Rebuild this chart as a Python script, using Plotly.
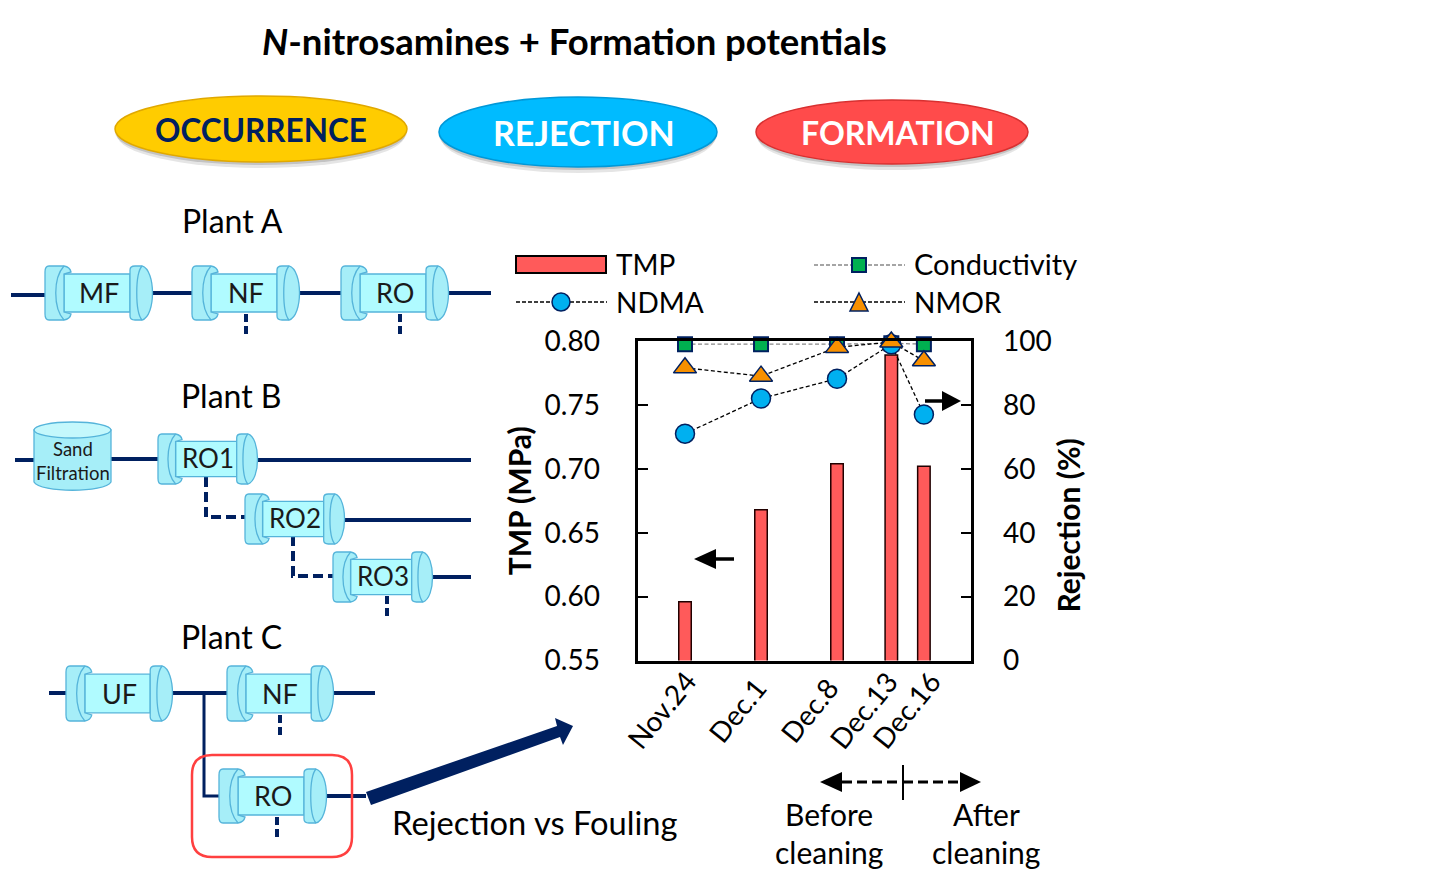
import plotly.graph_objects as go

W, H = 1440, 891
FONT = "Lato"
NAVY = "#002060"

# ---- chart data ----
dates = ["2014-11-24", "2014-12-01", "2014-12-08", "2014-12-13", "2014-12-16"]
date_labels = ["Nov.24", "Dec.1", "Dec.8", "Dec.13", "Dec.16"]
tmp = [0.596, 0.668, 0.704, 0.789, 0.702]
conductivity = [99, 99, 99, 99.3, 99]
ndma = [71, 82, 88.2, 99, 77]
nmor = [91.6, 89, 98, 99.7, 93.8]
left_ticks = [0.55, 0.60, 0.65, 0.70, 0.75, 0.80]
left_tick_labels = ["0.55", "0.60", "0.65", "0.70", "0.75", "0.80"]
right_ticks = [0, 20, 40, 60, 80, 100]
label_xshift = [-24, -24, -28, -28, -18]


def px(x):
    return x / W


def py(y):
    return 1 - y / H


shapes = []
annotations = []


def path(cmds):
    """cmds: list of (letter, x, y, ...) in page pixels."""
    out = []
    for c in cmds:
        nums = c[1:]
        pts = []
        for i in range(0, len(nums), 2):
            pts.append(f"{px(nums[i]):.5f},{py(nums[i + 1]):.5f}")
        out.append(c[0] + " ".join(pts))
    return " ".join(out)


def add_path(cmds, fill=None, line=None, lw=1.0, dash=None):
    s = dict(type="path", xref="paper", yref="paper", path=path(cmds),
             line=dict(color=line or "rgba(0,0,0,0)", width=lw if line else 0))
    if dash:
        s["line"]["dash"] = dash
    if fill:
        s["fillcolor"] = fill
    shapes.append(s)


def seg(x0, y0, x1, y1, color=NAVY, lw=4, dash=None):
    s = dict(type="line", xref="paper", yref="paper", x0=px(x0), y0=py(y0), x1=px(x1), y1=py(y1),
             line=dict(color=color, width=lw))
    if dash:
        s["line"]["dash"] = dash
    shapes.append(s)


def ell(cx, cy, rx, ry, fill=None, line=None, lw=1.0):
    shapes.append(dict(type="circle", xref="paper", yref="paper",
                       x0=px(cx - rx), x1=px(cx + rx), y0=py(cy + ry), y1=py(cy - ry),
                       fillcolor=fill or "rgba(0,0,0,0)",
                       line=dict(color=line or "rgba(0,0,0,0)", width=lw if line else 0)))


def rect(x0, y0, x1, y1, fill=None, line=None, lw=1.0):
    shapes.append(dict(type="rect", xref="paper", yref="paper",
                       x0=px(x0), x1=px(x1), y0=py(y1), y1=py(y0),
                       fillcolor=fill or "rgba(0,0,0,0)",
                       line=dict(color=line or "rgba(0,0,0,0)", width=lw if line else 0)))


def text(x, y, s, size=30, color="black", anchor="center", angle=0):
    annotations.append(dict(xref="paper", yref="paper", x=px(x), y=py(y - 1.5), text=s, showarrow=False,
                            xanchor=anchor, yanchor="middle", textangle=angle,
                            font=dict(family=FONT, size=size, color=color)))


BODY = "#B0FBFF"
CAP = "#A6EEF8"
EDGE = "#55B4DA"


def module(x0, y0, w, h, label, size=27):
    sx, sy = w / 108, h / 54
    X = lambda v: x0 + v * sx
    Y = lambda v: y0 + v * sy
    # body
    rect(X(19), Y(8), X(85), Y(46), fill=BODY, line=EDGE, lw=1.3)
    # left cap
    add_path([("M", X(4), Y(0)), ("L", X(19), Y(0)), ("Q", X(25), Y(1), X(26), Y(6)),
              ("L", X(19), Y(8)), ("L", X(19), Y(46)), ("L", X(26), Y(48)),
              ("Q", X(25), Y(53), X(19), Y(54)), ("L", X(4), Y(54)),
              ("Q", X(0), Y(54), X(0), Y(48)), ("L", X(0), Y(6)), ("Q", X(0), Y(0), X(4), Y(0)), ("Z",)],
             fill=CAP, line=EDGE, lw=1.3)
    add_path([("M", X(19), Y(0)), ("C", X(8), Y(12), X(8), Y(42), X(19), Y(54))], line=EDGE, lw=1.3)
    # right cap
    add_path([("M", X(90), Y(0)), ("L", X(97), Y(0)),
              ("C", X(111), Y(4), X(111), Y(50), X(97), Y(54)),
              ("L", X(90), Y(54)), ("Q", X(85), Y(54), X(85), Y(50)),
              ("L", X(85), Y(4)), ("Q", X(85), Y(0), X(90), Y(0)), ("Z",)],
             fill=CAP, line=EDGE, lw=1.3)
    add_path([("M", X(97), Y(0)), ("C", X(90), Y(8), X(90), Y(46), X(97), Y(54))], line=EDGE, lw=1.3)
    text(X(53.5), Y(28), label, size=size, color="#1a1a1a")


# ---- title + ovals ----
text(574, 42.5, "<b><i>N</i>-nitrosamines + Formation potentials</b>", size=36.5)

for cx, cy, rx, ry, col, edge, lab, tcol, tx, ts in [
    (261, 129, 146, 33, "#FFCC00", "#E0A800", "OCCURRENCE", NAVY, 261, 31.5),
    (578, 132, 139, 35, "#00BBFF", "#0098D8", "REJECTION", "white", 584, 34),
    (892, 132, 136, 32, "#FF4B4B", "#D83030", "FORMATION", "white", 898, 32),
]:
    ell(cx, cy + 6, rx - 2, ry, fill="rgba(0,0,0,0.10)")
    ell(cx, cy + 3, rx, ry, fill="rgba(0,0,0,0.15)")
    ell(cx, cy, rx, ry, fill=col, line=edge, lw=1.5)
    text(tx, cy + 2, f"<b>{lab}</b>", size=ts, color=tcol)

# ---- Plant A ----
text(232, 222, "Plant A", size=32)
seg(11, 295, 53, 295)
seg(150, 293, 193, 293)
seg(298, 293, 342, 293)
seg(447, 293, 491, 293)
module(45, 266, 108, 54, "MF")
module(192, 266, 108, 54, "NF")
module(341, 266, 108, 54, "RO")
seg(246, 314, 246, 338, dash="8px,4px")
seg(400, 314, 400, 338, dash="8px,4px")

# ---- Plant B ----
text(231, 397, "Plant B", size=32)
seg(15, 460, 36, 460)
seg(110, 459, 160, 459)
seg(254, 460, 471, 460)
seg(339, 520, 471, 520)
seg(430, 577, 471, 577)
add_path([("M", 206, 477), ("L", 206, 517), ("L", 245, 517)], line=NAVY, lw=4, dash="10px,5px")
add_path([("M", 293, 536), ("L", 293, 576), ("L", 333, 576)], line=NAVY, lw=4, dash="10px,5px")
seg(387, 596, 387, 620, dash="8px,4px")
add_path([("M", 34, 430), ("L", 34, 482), ("C", 40, 493, 105, 493, 111, 482), ("L", 111, 430), ("Z",)],
         fill=CAP, line=EDGE, lw=1.3)
ell(72.5, 430, 38.5, 8, fill="#C4F8FC", line=EDGE, lw=1.3)
text(73, 450, "Sand", size=18.5, color="#1a1a1a")
text(73, 474, "Filtration", size=18.5, color="#1a1a1a")
module(158, 434, 100, 50, "RO1", size=26)
module(245, 494, 100, 50, "RO2", size=26)
module(333, 552, 100, 50, "RO3", size=26)

# ---- Plant C ----
text(231, 638, "Plant C", size=32)
seg(49, 693, 68, 693)
seg(171, 693, 229, 693)
seg(331, 693, 375, 693)
add_path([("M", 204, 693), ("L", 204, 796), ("L", 221, 796)], line=NAVY, lw=3)
seg(325, 796, 366, 796)
module(66, 666, 107, 55, "UF")
module(227, 666, 107, 55, "NF")
module(219, 769, 108, 54, "RO")
seg(280, 715, 280, 737, dash="8px,4px")
seg(277, 817, 277, 837, dash="8px,4px")
add_path([("M", 212, 755), ("L", 332, 755), ("Q", 352, 755, 352, 775), ("L", 352, 837),
          ("Q", 352, 857, 332, 857), ("L", 212, 857), ("Q", 192, 857, 192, 837), ("L", 192, 775),
          ("Q", 192, 755, 212, 755), ("Z",)], line="#FF4040", lw=2.5)

# big navy arrow
add_path([("M", 366, 792), ("L", 557, 726), ("L", 555, 718), ("L", 573, 726), ("L", 563, 745),
          ("L", 560, 737), ("L", 371, 805), ("Z",)], fill=NAVY)
text(535, 824, "Rejection vs Fouling", size=32.7)

# ---- legend drawn to match the side-by-side key ----
rect(516, 256, 606, 273, fill="#FF5A5A", line="black", lw=2)
text(614, 265, "TMP", size=28, anchor="left")
seg(814, 265, 905, 265, color="#888888", lw=1.5, dash="4px,2px")
rect(852, 258, 866, 272, fill="#00B050", line=NAVY, lw=2)
text(912, 265, "Conductivity", size=29, anchor="left")
seg(516, 302, 607, 302, color="black", lw=1.5, dash="4px,2px")
ell(561, 302, 9, 9, fill="#00B0F0", line=NAVY, lw=1.5)
text(614, 303, "NDMA", size=28, anchor="left")
seg(814, 302, 905, 302, color="black", lw=1.5, dash="4px,2px")
add_path([("M", 859, 293), ("L", 868, 311), ("L", 850, 311), ("Z",)], fill="#F79000", line=NAVY, lw=1.5)
text(912, 303, "NMOR", size=28, anchor="left")

# ---- chart arrows ----
seg(715, 559, 734, 559, color="black", lw=3.5)
add_path([("M", 694, 559), ("L", 716, 549), ("L", 716, 569), ("Z",)], fill="black")
seg(925, 401, 943, 401, color="black", lw=3.5)
add_path([("M", 961, 401), ("L", 942, 391), ("L", 942, 411), ("Z",)], fill="black")

seg(842, 782, 903, 782, color="black", lw=3, dash="10px,5px")
seg(903, 782, 961, 782, color="black", lw=3, dash="10px,5px")
add_path([("M", 820, 782), ("L", 842, 772), ("L", 842, 792), ("Z",)], fill="black")
add_path([("M", 981, 782), ("L", 960, 772), ("L", 960, 792), ("Z",)], fill="black")
seg(903, 765, 903, 800, color="black", lw=2)
text(829, 815, "Before", size=30)
text(829, 853, "cleaning", size=30)
text(986, 815, "After", size=30)
text(986, 853, "cleaning", size=30)

# right-hand axis title sits lower than the axis midpoint
text(1067, 527, "<b>Rejection (%)</b>", size=30, angle=-90)

# date labels hand-spaced along the axis so Dec.13 and Dec.16 do not collide
for d, lab, dx in zip(dates, date_labels, label_xshift):
    annotations.append(dict(xref="x", yref="paper", x=d, y=py(710), xshift=dx, text=lab, showarrow=False,
                            xanchor="center", yanchor="middle", textangle=-51,
                            font=dict(family=FONT, size=28, color="black")))

# ---- traces ----
fig = go.Figure()
fig.add_trace(go.Bar(x=dates, y=tmp, name="TMP", width=1.15 * 86400000,
                     marker=dict(color="#FF5A5A", line=dict(color="#200000", width=1.5))))
line_marker = [
    ("Conductivity", conductivity, "#888888", "square", 14, "#00B050", 2),
    ("NDMA", ndma, "black", "circle", 19, "#00B0F0", 1.5),
    ("NMOR", nmor, "black", "triangle-up", 20, "#F79000", 1.5),
]
for name, vals, lcol, sym, size, fcol, mlw in line_marker:
    fig.add_trace(go.Scatter(x=dates, y=vals, name=name, yaxis="y2", mode="lines+markers", cliponaxis=False,
                             line=dict(color=lcol, width=1.3, dash="4px,2.5px"),
                             marker=dict(symbol=sym, size=size, color=fcol, line=dict(color=NAVY, width=mlw))))

tickfont = dict(family=FONT, size=28, color="black")
fig.update_layout(
    width=W, height=H, margin=dict(l=0, r=0, t=0, b=0, autoexpand=False), paper_bgcolor="white", plot_bgcolor="white",
    showlegend=False, shapes=shapes, annotations=annotations, font=dict(family=FONT),
    xaxis=dict(type="date", domain=[px(637.5), px(970.5)], range=["2014-11-19 15:00", "2014-12-20 07:00"],
               tickmode="array", tickvals=dates, ticktext=date_labels, showticklabels=False,
               automargin=False,
               showgrid=False, showline=True, mirror=True, linecolor="black", linewidth=3, ticks=""),
    yaxis=dict(domain=[py(660.5), py(341)], range=[0.55, 0.80], tickmode="array", tickvals=left_ticks,
               ticktext=left_tick_labels, tickfont=tickfont, ticks="inside", ticklen=10, tickwidth=1.5,
               automargin=False,
               tickcolor="black", ticklabelstandoff=29, showgrid=False, zeroline=False, showline=True,
               linecolor="black", linewidth=3,
               title=dict(text="<b>TMP (MPa)</b>", font=dict(family=FONT, size=30, color="black"), standoff=5)),
    yaxis2=dict(overlaying="y", side="right", range=[0, 100], tickmode="array", tickvals=right_ticks,
                tickfont=tickfont, ticks="inside", ticklen=10, tickwidth=1.5, tickcolor="black",
                automargin=False,
                ticklabelstandoff=24, showgrid=False, zeroline=False, showline=True,
                linecolor="black", linewidth=3),
)

fig.write_html("out.html", config={"displayModeBar": False},
               post_script="document.body.style.margin='0';document.documentElement.style.overflow='hidden';")
